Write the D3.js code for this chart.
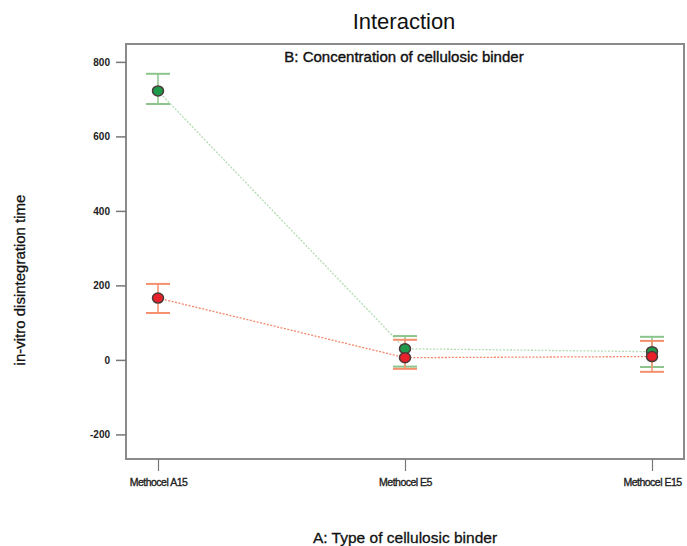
<!DOCTYPE html>
<html><head><meta charset="utf-8">
<script src="https://cdn.jsdelivr.net/npm/d3@7"></script>
<style>body{margin:0;background:#fff}svg{display:block}text{font-family:"Liberation Sans",Arial,sans-serif}</style>
</head><body><svg id="c" width="687" height="546"></svg>
<script>
const categories = ["Methocel A15", "Methocel E5", "Methocel E15"];
const yTicks = [-200, 0, 200, 400, 600, 800];
const greenValues = [722, 30, 22];
const greenLow = [687, -18, -19];
const greenHigh = [768, 64, 62];
const redValues = [166, 6, 9];
const redLow = [126, -24, -32];
const redHigh = [204, 54, 51];

const svg = d3.select("#c");
const frame = {l: 126, r: 684, t: 44, b: 459};
const x = d3.scalePoint().domain(categories).range([158, 652]);
const y = d3.scaleLinear().domain([-266, 848]).range([frame.b, frame.t]);

svg.append("rect").attr("x", frame.l).attr("y", frame.t).attr("width", frame.r - frame.l).attr("height", frame.b - frame.t)
  .attr("fill", "none").attr("stroke", "#8a8a8a").attr("stroke-width", 2);

const yAx = svg.append("g").attr("transform", `translate(${frame.l},0)`)
  .call(d3.axisLeft(y).tickValues(yTicks).tickSize(10).tickPadding(6).tickFormat(d => String(d)));
yAx.select(".domain").remove();
yAx.selectAll("line").attr("stroke", "#777").attr("stroke-width", 1.5);
yAx.selectAll("text").attr("font-size", 10).attr("font-weight", "bold").attr("fill", "#222");

const xAx = svg.append("g").attr("transform", `translate(0,${frame.b})`)
  .call(d3.axisBottom(x).tickSize(12).tickPadding(6));
xAx.select(".domain").remove();
xAx.selectAll("line").attr("stroke", "#777").attr("stroke-width", 1.2);
xAx.selectAll("text").attr("font-size", 10.5).attr("fill", "#222").attr("stroke", "#222").attr("stroke-width", 0.35).attr("letter-spacing", "-0.5").attr("dy", "0.9em");

function series(vals, lo, hi, lineCol, barCol, fill) {
  const idx = d3.range(vals.length);
  svg.append("path").datum(idx)
    .attr("d", d3.line().x(i => x(categories[i])).y(i => y(vals[i])))
    .attr("fill", "none").attr("stroke", lineCol).attr("stroke-width", 1.3).attr("stroke-dasharray", "2,1.5");
  const g = svg.append("g");
  idx.forEach(i => {
    const cx = x(categories[i]);
    g.append("line").attr("x1", cx).attr("x2", cx).attr("y1", y(lo[i])).attr("y2", y(hi[i])).attr("stroke", barCol).attr("stroke-width", 1.5);
    [lo[i], hi[i]].forEach(v => g.append("line").attr("x1", cx - 12).attr("x2", cx + 12).attr("y1", y(v)).attr("y2", y(v)).attr("stroke", barCol).attr("stroke-width", 2));
  });
  return idx.map(i => ({cx: x(categories[i]), cy: y(vals[i]), fill}));
}
const gPts = series(greenValues, greenLow, greenHigh, "#b4dbb4", "#8cc48c", "#1f9a4a");
const rPts = series(redValues, redLow, redHigh, "#f4876a", "#f4906c", "#e8202a");
[...gPts, ...rPts].forEach(p => {
  svg.append("ellipse").attr("cx", p.cx).attr("cy", p.cy).attr("rx", 5.5).attr("ry", 5)
    .attr("fill", p.fill).attr("stroke", "#4a3a3a").attr("stroke-width", 1.5);
});

svg.append("text").attr("x", 404).attr("y", 29).attr("text-anchor", "middle").attr("font-size", 22).attr("fill", "#111").text("Interaction");
svg.append("text").attr("x", 404).attr("y", 62).attr("text-anchor", "middle").attr("font-size", 15).attr("fill", "#111").attr("stroke", "#111").attr("stroke-width", 0.4).text("B: Concentration of cellulosic binder");
svg.append("text").attr("x", 405).attr("y", 543).attr("text-anchor", "middle").attr("font-size", 15.5).attr("fill", "#111").attr("stroke", "#111").attr("stroke-width", 0.3).text("A: Type of cellulosic binder");
svg.append("text").attr("transform", "translate(25,280) rotate(-90)").attr("text-anchor", "middle").attr("font-size", 15).attr("fill", "#111").attr("stroke", "#111").attr("stroke-width", 0.3).text("in-vitro disintegration time");
</script></body></html>
